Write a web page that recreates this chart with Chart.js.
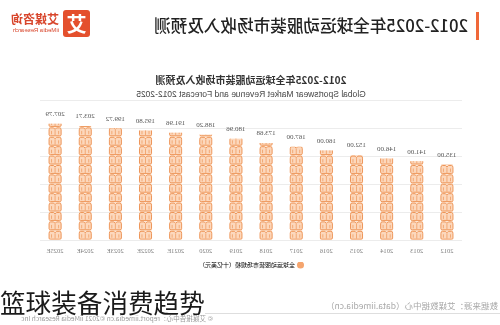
<!DOCTYPE html>
<html>
<head>
<meta charset="utf-8">
<script src="https://cdn.jsdelivr.net/npm/chart.js@4.4.1/dist/chart.umd.min.js"></script>
<style>
  html, body { margin:0; padding:0; background:#fff; }
  #wrap { position:relative; width:500px; height:325px; overflow:hidden; background:#fff; }
  #mirror { position:absolute; left:0; top:0; width:500px; height:325px; transform:scaleX(-1); transform-origin:250px 0; }
  #c { position:absolute; left:0; top:0; }
  .abs { position:absolute; white-space:nowrap; }
  #hbar { left:21px; top:12px; width:3px; height:28px; background:#f0683a; }
  #htitle { left:32px; top:15px; font:500 16.6px/21px "Noto Sans CJK SC", sans-serif; color:#222; }
  #logoSq { left:410px; top:10px; width:27px; height:27px; background:#e4502d; border-radius:3px; color:#fff; font:700 20px/27px "Noto Sans CJK SC", sans-serif; text-align:center; }
  #logoTxt { left:441px; top:12px; font:700 12px/14px "Noto Sans CJK SC", sans-serif; color:#d8452b; }
  #logoSub { left:441px; top:27px; font:400 6px/7px "Liberation Sans", sans-serif; color:#d8452b; }
  #src { left:2px; top:300px; font:400 8.5px/10px "Noto Sans CJK SC", sans-serif; color:#a8a8a8; }
  #line { left:0px; top:313px; width:295px; height:1px; background:#dedede; }
  #copy { left:287px; top:314px; font:400 6.6px/9px "Noto Sans CJK SC", sans-serif; color:#9a9a9a; }
  #caption { position:absolute; left:0px; top:288px; font:400 25.6px/27px "Noto Sans CJK SC", sans-serif; color:#1a1a1a; white-space:nowrap; }
</style>
</head>
<body>
<div id="wrap">
  <div id="mirror">
    <canvas id="c" width="500" height="325"></canvas>
    <div class="abs" id="hbar"></div>
    <div class="abs" id="htitle">2012-2025年全球运动服装市场收入及预测</div>
    <div class="abs" id="logoSq">艾</div>
    <div class="abs" id="logoTxt">艾媒咨询</div>
    <div class="abs" id="logoSub">iiMedia Research</div>
    <div class="abs" id="src">数据来源：艾媒数据中心（data.iimedia.cn）</div>
    <div class="abs" id="line"></div>
    <div class="abs" id="copy">© 艾媒报告中心：report.iimedia.cn ©2021 iiMedia Research Inc</div>
  </div>
  <div id="caption">篮球装备消费趋势</div>
</div>
<script>
const categories = ["2012","2013","2014","2015","2016","2017","2018","2019","2020","2021E","2022E","2023E","2024E","2025E"];
const revenue = [135.00,141.00,146.00,152.00,160.00,167.00,173.68,180.96,188.20,191.96,195.80,199.72,203.71,207.79];
const valueLabels = ["135.00","141.00","146.00","152.00","160.00","167.00","173.68","180.96","188.20","191.96","195.80","199.72","203.71","207.79"];
const seriesName = "全球运动服装市场规模（十亿美元）";
const chartTitle = "2012-2025年全球运动服装市场收入及预测";
const chartSubtitle = "Global Sportswear Market Revenue and Forecast 2012-2025";

const iconPlugin = {
  id: 'iconBars',
  afterDatasetsDraw(chart) {
    const ctx = chart.ctx;
    const meta = chart.getDatasetMeta(0);
    meta.data.forEach((bar, i) => {
      const w = bar.width, x0 = bar.x - w/2, top = bar.y, base = bar.base;
      ctx.save();
      ctx.beginPath();
      ctx.rect(x0 - 1, top, w + 2, base - top);
      ctx.clip();
      const h = 9.4;
      for (let y = base; y > top - h; y -= h) {
        const t = y - h;
        ctx.fillStyle = '#fcd8bd';
        ctx.strokeStyle = '#ee9659';
        ctx.lineWidth = 1;
        ctx.beginPath();
        ctx.moveTo(bar.x - w/2 + 1.5, t + 1);
        ctx.lineTo(bar.x - 1.5, t + 1);
        ctx.lineTo(bar.x, t + 2.5);
        ctx.lineTo(bar.x + 1.5, t + 1);
        ctx.lineTo(bar.x + w/2 - 1.5, t + 1);
        ctx.quadraticCurveTo(bar.x + w/2, t + 1, bar.x + w/2, t + 3);
        ctx.lineTo(bar.x + w/2, t + h - 1.5);
        ctx.quadraticCurveTo(bar.x + w/2, t + h - 0.5, bar.x + w/2 - 1.5, t + h - 0.5);
        ctx.lineTo(bar.x - w/2 + 1.5, t + h - 0.5);
        ctx.quadraticCurveTo(bar.x - w/2, t + h - 0.5, bar.x - w/2, t + h - 1.5);
        ctx.lineTo(bar.x - w/2, t + 3);
        ctx.quadraticCurveTo(bar.x - w/2, t + 1, bar.x - w/2 + 1.5, t + 1);
        ctx.closePath();
        ctx.fill();
        ctx.stroke();
        ctx.beginPath();
        ctx.moveTo(bar.x, t + 3);
        ctx.lineTo(bar.x, t + h - 1);
        ctx.moveTo(bar.x - w/2 + 2.5, t + 4);
        ctx.lineTo(bar.x - w/2 + 2.5, t + h - 2);
        ctx.moveTo(bar.x + w/2 - 2.5, t + 4);
        ctx.lineTo(bar.x + w/2 - 2.5, t + h - 2);
        ctx.strokeStyle = '#f2a874';
        ctx.stroke();
      }
      ctx.restore();
      ctx.save();
      ctx.font = '7px "Liberation Serif", serif';
      ctx.fillStyle = '#555';
      ctx.textAlign = 'center';
      ctx.textBaseline = 'bottom';
      ctx.fillText(valueLabels[i], bar.x, top - 6);
      ctx.restore();
    });
  }
};

new Chart(document.getElementById('c'), {
  type: 'bar',
  data: {
    labels: categories,
    datasets: [{
      label: seriesName,
      data: revenue,
      backgroundColor: 'rgba(252,216,189,0.6)',
      borderWidth: 0,
      barPercentage: 0.4,
      categoryPercentage: 1.0
    }]
  },
  options: {
    responsive: false,
    animation: false,
    devicePixelRatio: 1,
    layout: { padding: { left: 38, right: 40, top: 74, bottom: 47 } },
    plugins: {
      title: {
        display: true, text: chartTitle, color: '#333',
        font: { family: '"Noto Sans CJK SC", sans-serif', size: 10, weight: 'bold', lineHeight: 1.2 },
        padding: { top: 0, bottom: 4 }
      },
      subtitle: {
        display: true, text: chartSubtitle, color: '#444',
        font: { family: '"Liberation Sans", sans-serif', size: 8.5, lineHeight: 1.2 },
        padding: { top: 0, bottom: 0 }
      },
      legend: {
        display: true, position: 'bottom',
        labels: {
          usePointStyle: true, pointStyle: 'circle', boxWidth: 5, boxHeight: 5,
          color: '#555', padding: 0,
          font: { family: '"Noto Sans CJK SC", sans-serif', size: 6 },
          generateLabels: (chart) => [{ text: seriesName, fillStyle: '#f5a56e', strokeStyle: '#f5a56e', lineWidth: 0, pointStyle: 'circle', datasetIndex: 0 }]
        }
      },
      tooltip: { enabled: false }
    },
    scales: {
      x: {
        grid: { display: false, drawTicks: false },
        border: { display: false },
        ticks: { color: '#808080', padding: 7, font: { family: '"Liberation Serif", serif', size: 6.5 }, maxRotation: 0, autoSkip: false }
      },
      y: {
        min: 0, max: 250,
        ticks: { display: false, stepSize: 50 },
        grid: { color: '#ececec', drawTicks: false, lineWidth: 1 },
        border: { display: false }
      }
    }
  },
  plugins: [iconPlugin]
});
</script>
</body>
</html>
